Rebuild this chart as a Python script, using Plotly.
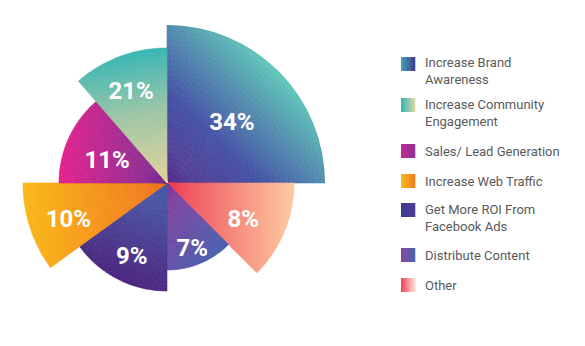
import numpy as np
import plotly.graph_objects as go

# ---------------- data ----------------
categories = ["Increase Brand Awareness", "Other", "Distribute Content",
              "Get More ROI From Facebook Ads", "Increase Web Traffic",
              "Sales/ Lead Generation", "Increase Community Engagement"]
percent_labels = ["34%", "8%", "7%", "9%", "10%", "11%", "21%"]
slice_radius = [158, 127, 87, 108, 144, 108, 135]
slice_width_deg = [90, 45, 45, 54, 36, 49, 41]
legend_order = ["Increase Brand Awareness", "Increase Community Engagement",
                "Sales/ Lead Generation", "Increase Web Traffic",
                "Get More ROI From Facebook Ads", "Distribute Content", "Other"]
legend_text = ["Increase Brand<br>Awareness", "Increase Community<br>Engagement",
               "Sales/ Lead Generation", "Increase Web Traffic",
               "Get More ROI From<br>Facebook Ads", "Distribute Content", "Other"]

# ---------------- styles ----------------
grad = {
    "Increase Brand Awareness": (45, [(0, "#5a3590"), (0.42, "#4553a6"), (1, "#62c8b9")]),
    "Other": (0, [(0, "#ee3d52"), (1, "#fdcba0")]),
    "Distribute Content": (-40, [(0, "#8e3f9e"), (1, "#4860af")]),
    "Get More ROI From Facebook Ads": (65, [(0, "#4b257f"), (1, "#4a62ae")]),
    "Increase Web Traffic": (0, [(0, "#fab919"), (1, "#f2741f")]),
    "Sales/ Lead Generation": (0, [(0, "#e5238d"), (1, "#7a3195")]),
    "Increase Community Engagement": (100, [(0, "#e4d49b"), (0.55, "#9cc6a6"), (1, "#38b6b4")]),
}
legend_grad = {
    "Increase Brand Awareness": ("#45a4b6", "#3f3a8f"),
    "Increase Community Engagement": ("#33b4b6", "#e2d8a2"),
    "Sales/ Lead Generation": ("#c3289a", "#8a3592"),
    "Increase Web Traffic": ("#f8bb18", "#f07a22"),
    "Get More ROI From Facebook Ads": ("#3c3b91", "#523c98"),
    "Distribute Content": ("#8c45a0", "#4466b0"),
    "Other": ("#ee4055", "#fde2d4"),
}
label_r_frac = [0.58, 0.65, 0.76, 0.72, 0.72, 0.61, 0.76]
label_dy_px = 6  # push labels down a little

W, H = 585, 346
CX, CY, R = 167, 183, 158


def hex2rgb(h):
    h = h.lstrip("#")
    return np.array([int(h[i:i + 2], 16) for i in (0, 2, 4)], dtype=float)


def interp(stops, t):
    t = min(max(t, 0), 1)
    for (t0, c0), (t1, c1) in zip(stops[:-1], stops[1:]):
        if t <= t1:
            f = 0 if t1 == t0 else (t - t0) / (t1 - t0)
            c = hex2rgb(c0) * (1 - f) + hex2rgb(c1) * f
            return "rgb(%d,%d,%d)" % tuple(np.round(c))
    c = hex2rgb(stops[-1][1])
    return "rgb(%d,%d,%d)" % tuple(c)


fig = go.Figure()

starts = np.concatenate([[0], np.cumsum(slice_width_deg)[:-1]])
centers = starts + np.array(slice_width_deg) / 2.0

NR = 32
for cat, r_out, w, st in zip(categories, slice_radius, slice_width_deg, starts):
    ang, stops = grad[cat]
    d = np.array([np.cos(np.radians(ang)), np.sin(np.radians(ang))])
    na = max(4, int(np.ceil(w / 2.0)))
    samp_t = np.linspace(st, st + w, 40)
    pts = [np.array([0.0, 0.0])] + [r_out * np.array([np.sin(np.radians(a)), np.cos(np.radians(a))]) for a in samp_t]
    proj = [p @ d for p in pts]
    pmin, pmax = min(proj), max(proj)
    th, wd, bs, rr, cols = [], [], [], [], []
    aw = w / na
    rw = r_out / NR
    for i in range(na):
        tc = st + aw * (i + 0.5)
        for j in range(NR):
            rm = rw * (j + 0.5)
            p = rm * np.array([np.sin(np.radians(tc)), np.cos(np.radians(tc))])
            t = (p @ d - pmin) / (pmax - pmin)
            th.append(tc); wd.append(aw); bs.append(rw * j); rr.append(rw); cols.append(interp(stops, t))
    fig.add_trace(go.Barpolar(
        theta=th, r=rr, base=bs, width=wd,
        marker=dict(color=cols, line=dict(color=cols, width=0.6)),
        hoverinfo="skip", showlegend=False, name=cat))

# percentage labels (placed at slice centre angle, shifted slightly down)
lab_r, lab_t = [], []
for f, r, c in zip(label_r_frac, slice_radius, centers):
    x = f * r * np.sin(np.radians(c))
    y = f * r * np.cos(np.radians(c)) - label_dy_px
    lab_r.append(float(np.hypot(x, y)))
    lab_t.append(float(np.degrees(np.arctan2(x, y))))
fig.add_trace(go.Scatterpolar(
    r=lab_r, theta=lab_t,
    mode="text", text=percent_labels,
    textfont=dict(family="Roboto", size=24, color="white", weight="bold"),
    hoverinfo="skip", showlegend=False))

fig.update_layout(
    width=W, height=H, margin=dict(l=0, r=0, t=0, b=0),
    paper_bgcolor="white", plot_bgcolor="white",
    polar=dict(
        domain=dict(x=[(CX - R) / W, (CX + R) / W], y=[1 - (CY + R) / H, 1 - (CY - R) / H]),
        bgcolor="rgba(0,0,0,0)", bargap=0, hole=0,
        radialaxis=dict(visible=False, range=[0, R]),
        angularaxis=dict(visible=False, direction="clockwise", rotation=90),
    ),
    showlegend=False,
)

# custom legend with gradient swatches
sq_top = [57, 98, 144, 174, 203, 248, 278]
txt_y = [71, 113, 151, 181, 218, 255, 285]
SX, SS = 401, 14
shapes, annots = [], []
NS = 7
for cat, lab, top, ty in zip(legend_order, legend_text, sq_top, txt_y):
    c0, c1 = legend_grad[cat]
    for k in range(NS):
        x0 = SX + SS * k / NS
        x1 = SX + SS * (k + 1) / NS
        col = interp([(0, c0), (1, c1)], (k + 0.5) / NS)
        shapes.append(dict(type="rect", xref="paper", yref="paper",
                           x0=x0 / W, x1=(x1 + 0.3) / W, y0=1 - (top + SS) / H, y1=1 - top / H,
                           fillcolor=col, line=dict(width=0), layer="above"))
    annots.append(dict(xref="paper", yref="paper", x=423 / W, y=1 - ty / H,
                       xanchor="left", yanchor="middle", align="left", showarrow=False,
                       text=lab, font=dict(family="Roboto", size=13, color="#5a5a5a")))
fig.update_layout(shapes=shapes, annotations=annots)

fig.write_html("out.html")
